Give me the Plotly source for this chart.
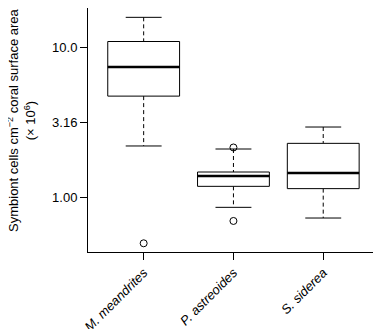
import plotly.graph_objects as go

categories = ["M. meandrites", "P. astreoides", "S. siderea"]
lower_whisker = [2.19, 0.853, 0.724]
q1 = [4.71, 1.178, 1.137]
median = [7.36, 1.38, 1.445]
q3 = [10.9, 1.468, 2.28]
upper_whisker = [15.8, 2.09, 2.93]
outliers = [[0.491], [2.14, 0.692], []]

y_tickvals = [1.0, 3.16, 10.0]
y_ticktext = ["1.00", "3.16", "10.0"]

FONT = "Liberation Sans, Arial, Helvetica, sans-serif"
BW = 0.4   # half box width
CW = 0.2   # half cap width

fig = go.Figure()
for i, cat in enumerate(categories):
    # whiskers (dashed)
    fig.add_trace(go.Scatter(x=[i, i, None, i, i],
                             y=[upper_whisker[i], q3[i], None, q1[i], lower_whisker[i]],
                             mode="lines", line=dict(color="black", width=1, dash="4px,3px"),
                             hoverinfo="skip", showlegend=False))
    # caps
    fig.add_trace(go.Scatter(x=[i - CW, i + CW, None, i - CW, i + CW],
                             y=[upper_whisker[i], upper_whisker[i], None, lower_whisker[i], lower_whisker[i]],
                             mode="lines", line=dict(color="black", width=1),
                             hoverinfo="skip", showlegend=False))
    # box
    fig.add_trace(go.Scatter(x=[i - BW, i + BW, i + BW, i - BW, i - BW],
                             y=[q1[i], q1[i], q3[i], q3[i], q1[i]],
                             mode="lines", fill="toself", fillcolor="white",
                             line=dict(color="black", width=1),
                             hoverinfo="skip", showlegend=False))
    # median
    fig.add_trace(go.Scatter(x=[i - BW, i + BW], y=[median[i], median[i]],
                             mode="lines", line=dict(color="black", width=2.5),
                             hoverinfo="skip", showlegend=False))
    # outliers
    if outliers[i]:
        fig.add_trace(go.Scatter(x=[i] * len(outliers[i]), y=outliers[i], mode="markers",
                                 marker=dict(symbol="circle-open", size=7, color="black",
                                             line=dict(width=1)),
                                 hoverinfo="skip", showlegend=False))

fig.update_layout(
    width=373, height=321,
    margin=dict(l=80, r=3, t=0, b=77, autoexpand=False),
    paper_bgcolor="white", plot_bgcolor="white",
    font=dict(family=FONT, size=13, color="black"),
    xaxis=dict(range=[-0.62, 2.61], tickvals=[0, 1, 2],
               ticktext=["<i>" + c + "</i>" for c in categories],
               tickangle=-45, ticks="outside", ticklen=7, tickcolor="black",
               showline=True, linecolor="black", linewidth=1, mirror=True,
               showgrid=False, zeroline=False, tickfont=dict(size=13), automargin=False),
    yaxis=dict(type="log", range=[-0.367, 1.261], tickvals=y_tickvals, ticktext=y_ticktext,
               ticks="outside", ticklen=7, tickcolor="black",
               showline=True, linecolor="black", linewidth=1, mirror=True,
               showgrid=False, zeroline=False, tickfont=dict(size=13), automargin=False),
    annotations=[dict(text="Symbiont cells cm<sup>−2</sup> coral surface area<br>(× 10<sup>6</sup>)",
                      xref="paper", yref="paper", x=-0.2276, y=0.541,
                      xanchor="center", yanchor="middle", textangle=-90,
                      showarrow=False, font=dict(size=13))],
)

fig.write_html("out.html")
